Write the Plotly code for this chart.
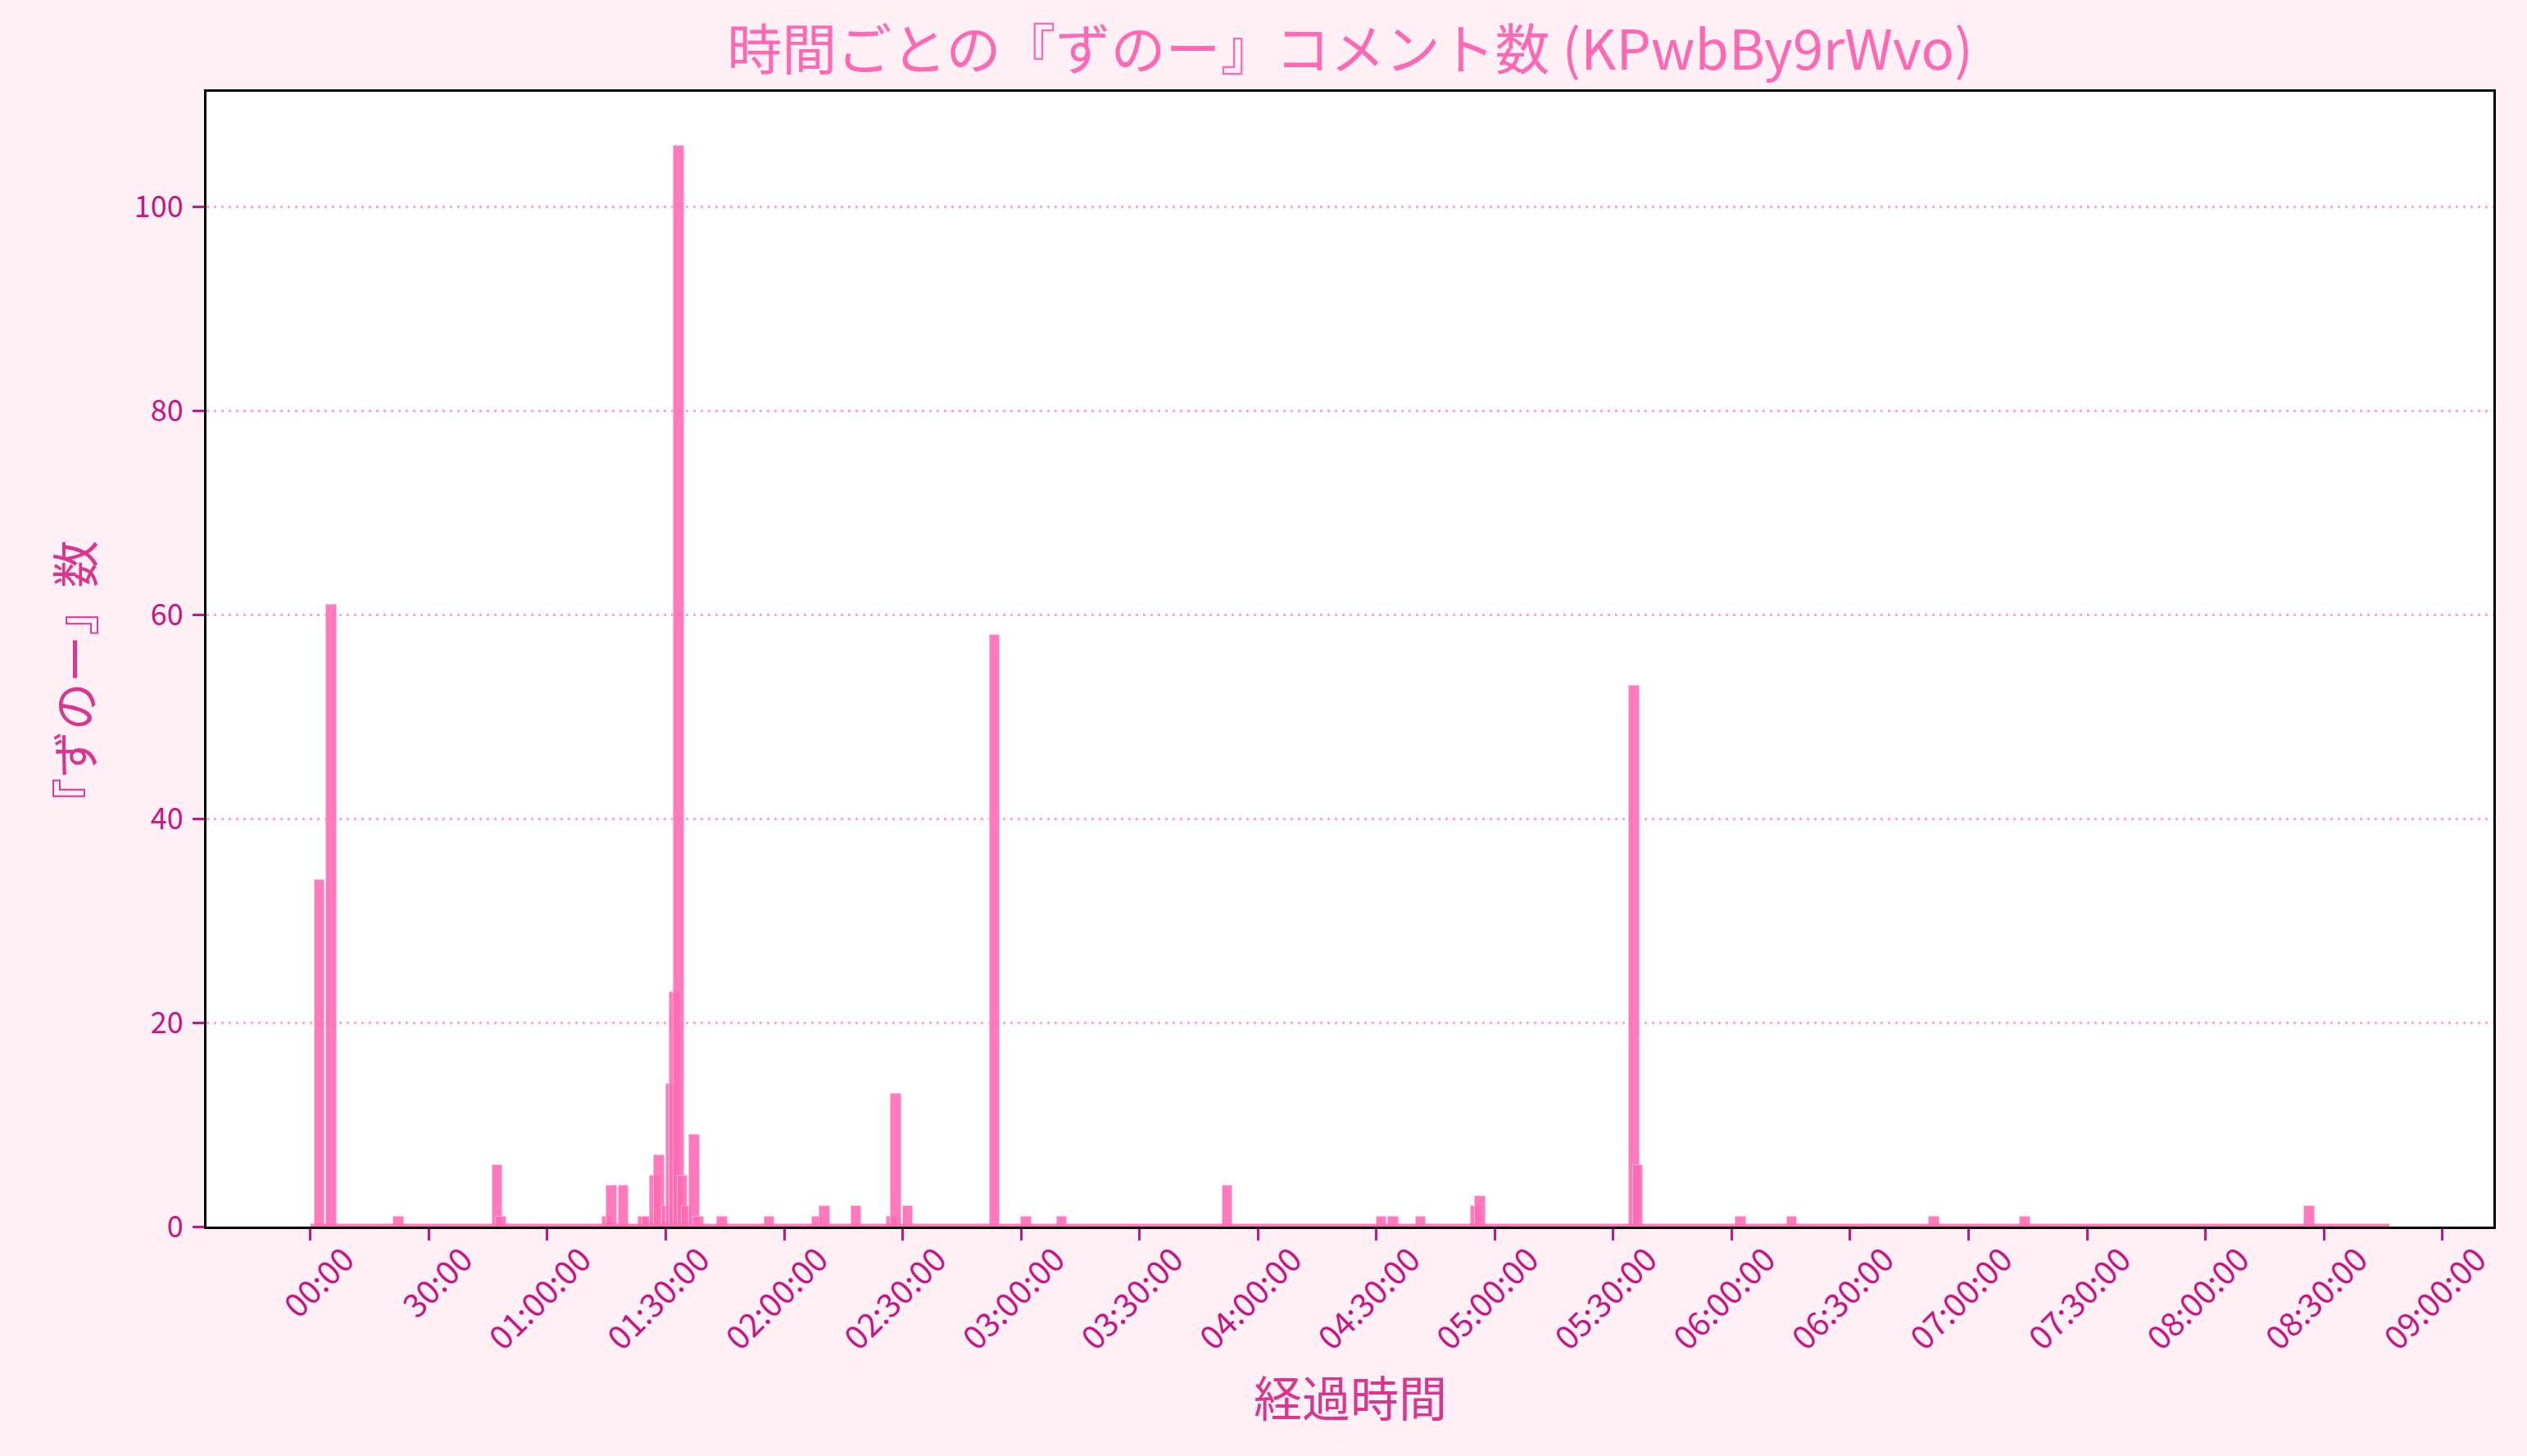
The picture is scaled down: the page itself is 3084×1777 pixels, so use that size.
import plotly.graph_objects as go

# ---- data (minute offset of bin start, count) ----
MINUTES = [1, 4, 21, 46, 47, 74, 75, 78, 83, 84, 86, 87, 89, 90, 91, 92, 93, 94,
           96, 97, 103, 115, 127, 129, 137, 146, 147, 150, 172, 180, 189, 231,
           270, 273, 280, 294, 295, 334, 335, 361, 374, 410, 433, 505]
COUNTS = [34, 61, 1, 6, 1, 1, 4, 4, 1, 1, 5, 7, 2, 14, 23, 106, 5, 2,
          9, 1, 1, 1, 1, 2, 2, 1, 13, 2, 58, 1, 1, 4,
          1, 1, 1, 2, 3, 53, 6, 1, 1, 1, 1, 2]
FIRST_MINUTE = 0
LAST_MINUTE = 524

TICK_MINUTES = [0, 30, 60, 90, 120, 150, 180, 210, 240, 270, 300, 330,
                360, 390, 420, 450, 480, 510, 540]
TICK_LABELS = ["00:00", "30:00", "01:00:00", "01:30:00", "02:00:00", "02:30:00",
               "03:00:00", "03:30:00", "04:00:00", "04:30:00", "05:00:00",
               "05:30:00", "06:00:00", "06:30:00", "07:00:00", "07:30:00",
               "08:00:00", "08:30:00", "09:00:00"]
Y_TICKS = [0, 20, 40, 60, 80, 100]

TITLE = "時間ごとの『ずのー』コメント数 (KPwbBy9rWvo)"
XLABEL = "経過時間"
YLABEL = "『ずのー』数"

# ---- style ----
BAR_W = 2.6
FONT = "Noto Sans CJK JP"
BG = "#FFF0F5"
BAR_COLOR = "rgba(255,105,180,0.88)"
TICK_COLOR = "#C71585"
LABEL_COLOR = "#D9378F"
TITLE_COLOR = "#FF69B4"

W, H = 3084, 1777
L, R, T, B = 252, 41, 112, 280

fig = go.Figure()

# baseline formed by the zero-count bins (first..last bin)
fig.add_trace(go.Scatter(
    x=[FIRST_MINUTE, LAST_MINUTE + BAR_W], y=[0, 0], mode="lines",
    line=dict(color=BAR_COLOR, width=7), hoverinfo="skip", showlegend=False))

fig.add_trace(go.Bar(
    x=MINUTES, y=COUNTS, width=BAR_W, offset=0,
    marker=dict(color=BAR_COLOR, line=dict(color="rgba(255,190,220,0.9)", width=1)),
    showlegend=False))

lo = FIRST_MINUTE
hi = LAST_MINUTE + BAR_W
pad = 0.05 * (hi - lo)
ymax = max(COUNTS) * 1.05

fig.update_layout(
    width=W, height=H,
    paper_bgcolor=BG, plot_bgcolor="white",
    margin=dict(l=L, r=R, t=T, b=B, pad=0),
    bargap=0,
    font=dict(family=FONT, color=TICK_COLOR),
    title=dict(text=TITLE, x=0.5, xref="paper", xanchor="center",
               y=1 - 62 / H, yref="container", yanchor="middle",
               font=dict(family=FONT, size=67, color=TITLE_COLOR)),
    xaxis=dict(range=[lo - pad, hi + pad], tickmode="array",
               tickvals=TICK_MINUTES, ticktext=TICK_LABELS, tickangle=-45,
               ticks="outside", ticklen=14, tickwidth=3, tickcolor=TICK_COLOR,
               tickfont=dict(family=FONT, size=40, color=TICK_COLOR),
               ticklabelshift=42, ticklabelstandoff=-16,
               showgrid=False, zeroline=False,
               showline=True, linecolor="black", linewidth=3, mirror=True),
    yaxis=dict(range=[0, ymax], tickmode="array", tickvals=Y_TICKS,
               ticks="outside", ticklen=14, tickwidth=3, tickcolor=TICK_COLOR,
               tickfont=dict(family=FONT, size=36, color=TICK_COLOR),
               ticklabelstandoff=4,
               showgrid=True, gridcolor="rgba(255,105,180,0.6)", gridwidth=2.5,
               griddash="3px,6px", zeroline=False,
               showline=True, linecolor="black", linewidth=3, mirror=True),
    annotations=[
        dict(text=XLABEL, x=0.5, y=(1497.5 - 1704) / (H - T - B), xref="paper",
             yref="paper", xanchor="center", yanchor="middle", showarrow=False,
             font=dict(family=FONT, size=59, color=LABEL_COLOR)),
        dict(text=YLABEL, x=(89 - L) / (W - L - R), y=0.479, xref="paper",
             yref="paper", xanchor="center", yanchor="middle", showarrow=False,
             textangle=-90, font=dict(family=FONT, size=58, color=LABEL_COLOR)),
    ],
)

fig.write_html("out.html",
               config={"displayModeBar": False},
               post_script="document.body.style.margin='0';"
                           "document.body.style.overflow='hidden';")
